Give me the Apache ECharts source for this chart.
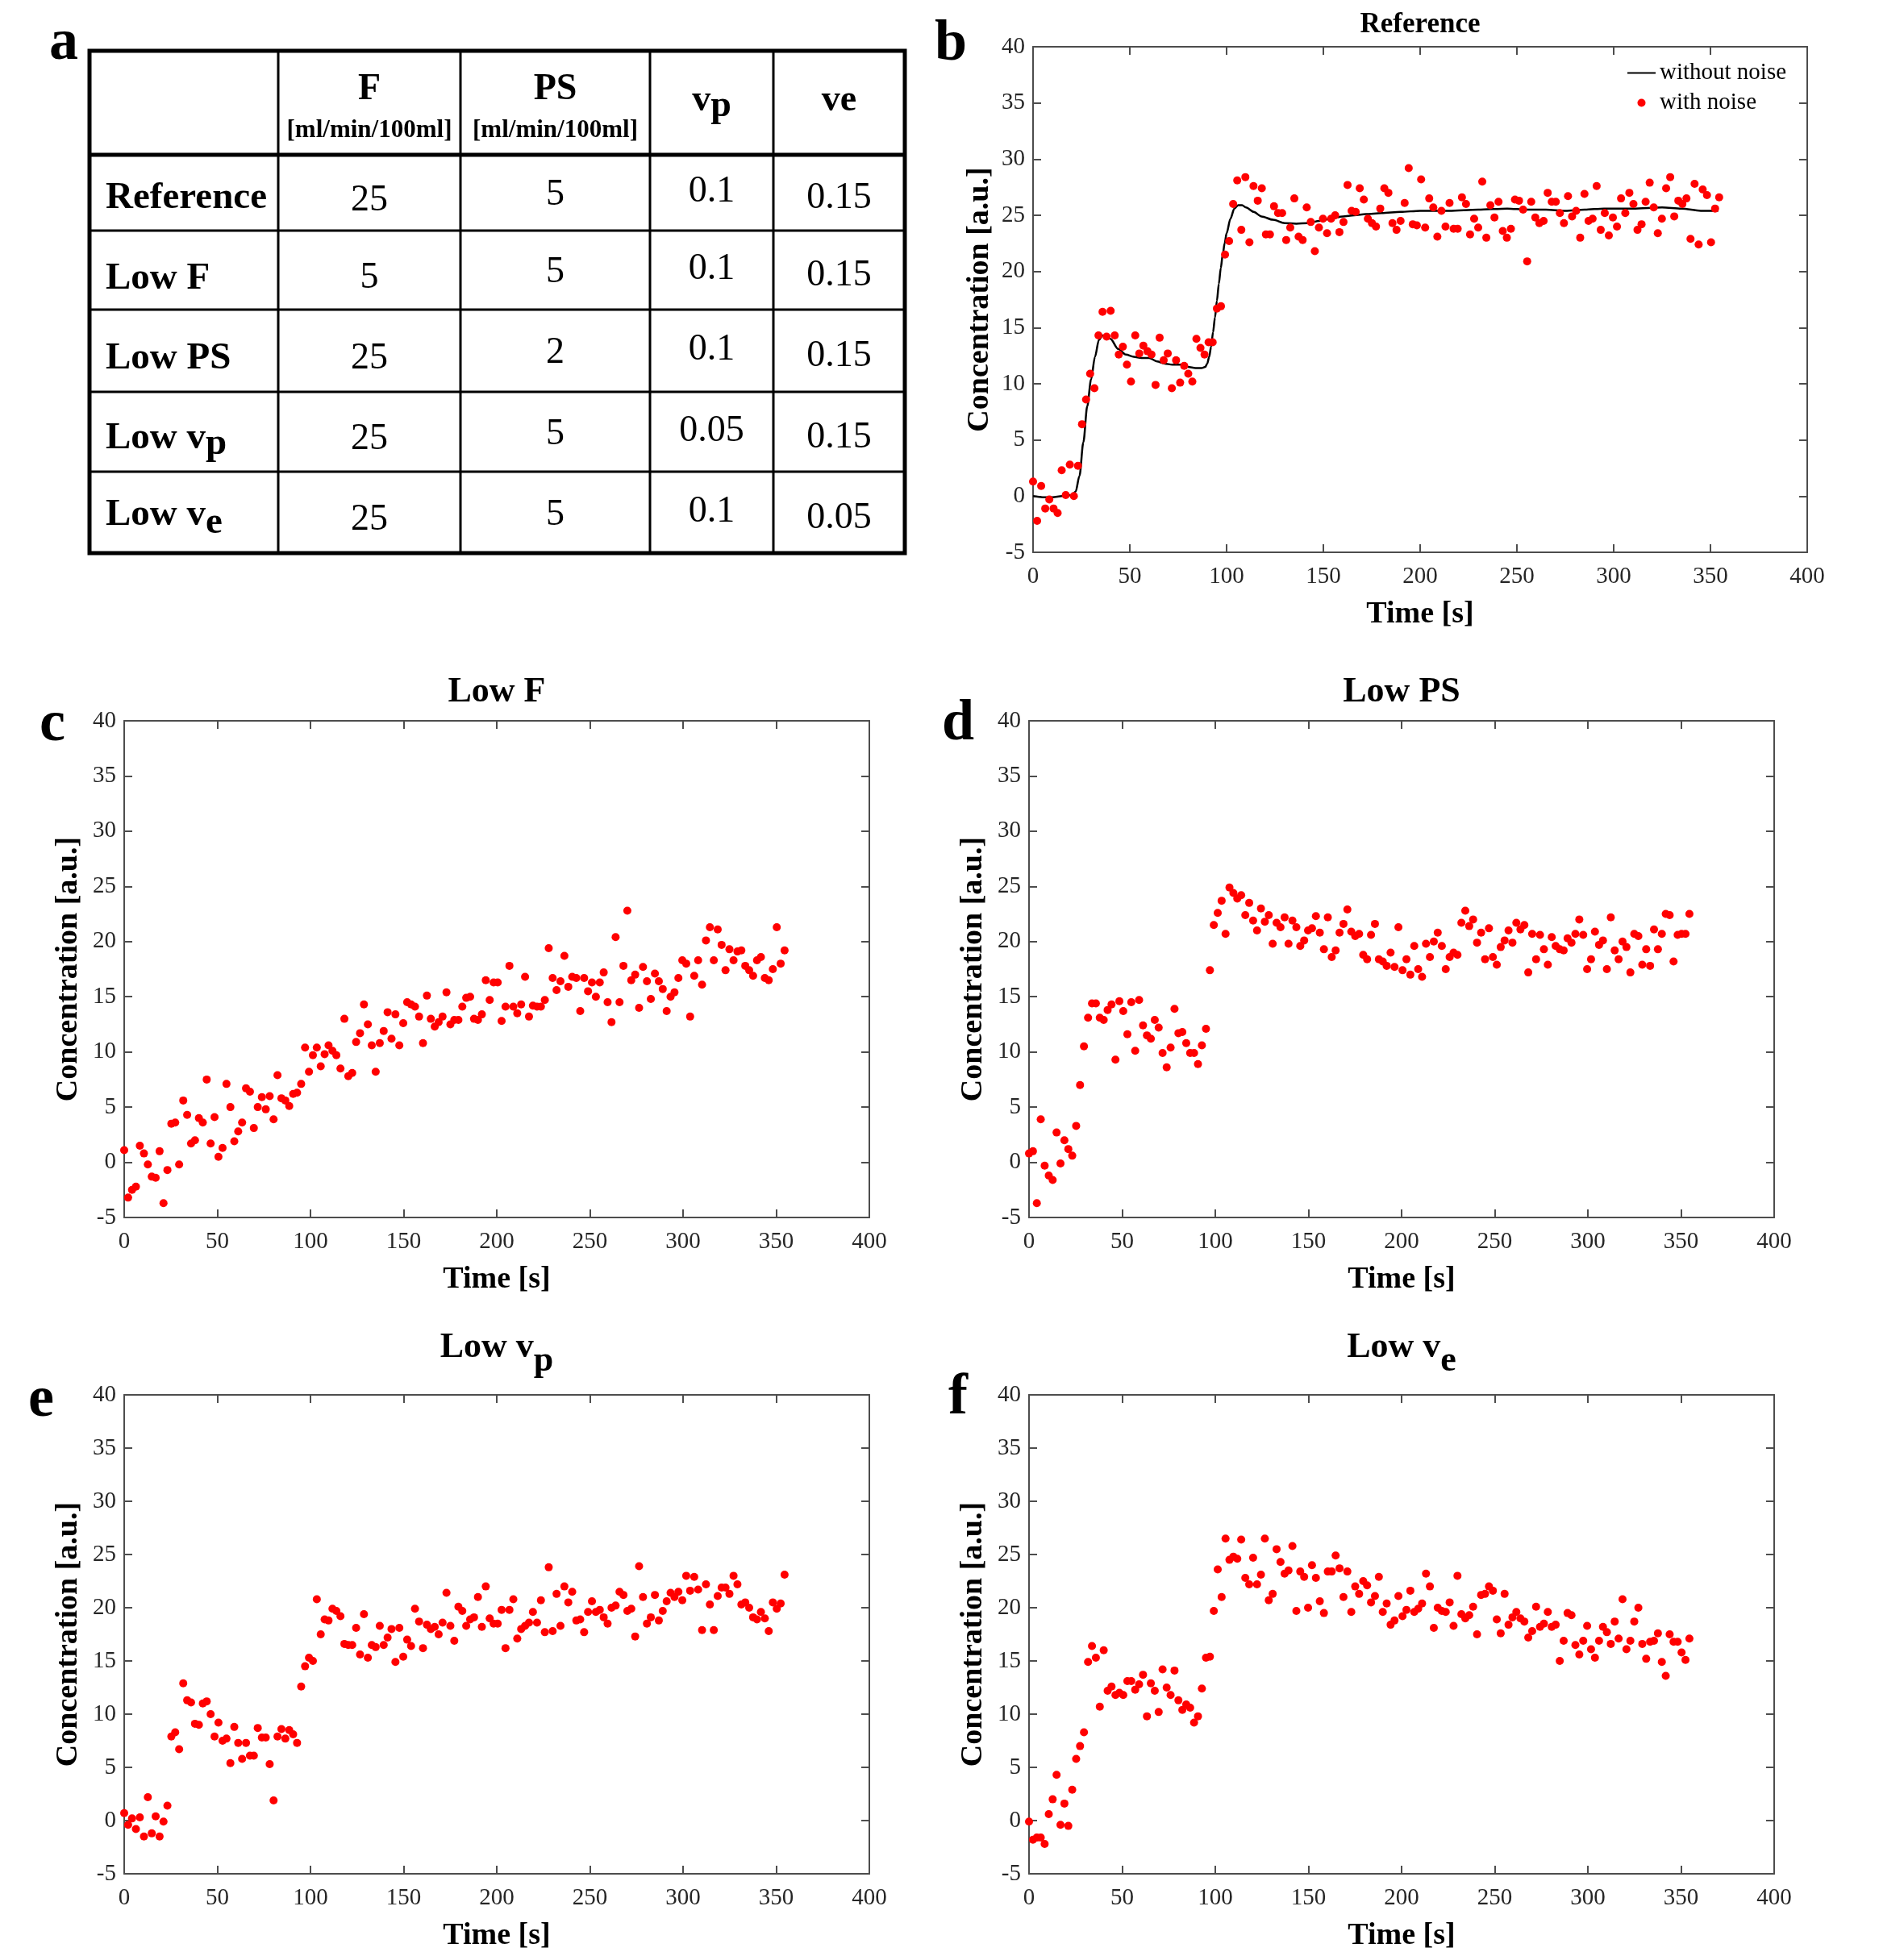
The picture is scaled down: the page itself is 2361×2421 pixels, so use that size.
<!DOCTYPE html>
<html>
<head>
<meta charset="utf-8">
<script src="https://cdn.jsdelivr.net/npm/echarts@6/dist/echarts.min.js"></script>
<style>
html,body{margin:0;padding:0;background:#fff;}
#chart{width:2361px;height:2421px;}
</style>
</head>
<body>
<div id="chart"></div>
<script>
// ---------------- DATA ----------------
// Sampling times [s] (common to all panels)
const time = [0.0,2.1,4.2,6.3,8.4,10.6,12.7,14.8,16.9,19.0,21.1,23.2,25.3,27.4,29.5,31.7,33.8,35.9,38.0,40.1,
42.2,44.3,46.4,48.5,50.6,52.8,54.9,57.0,59.1,61.2,63.3,65.4,67.5,69.6,71.7,73.9,76.0,78.1,80.2,82.3,
84.4,86.5,88.6,90.7,92.8,95.0,97.1,99.2,101.3,103.4,105.5,107.6,109.7,111.8,113.9,116.1,118.2,120.3,122.4,124.5,
126.6,128.7,130.8,132.9,135.0,137.2,139.3,141.4,143.5,145.6,147.7,149.8,151.9,154.0,156.1,158.3,160.4,162.5,164.6,166.7,
168.8,170.9,173.0,175.1,177.2,179.4,181.5,183.6,185.7,187.8,189.9,192.0,194.1,196.2,198.3,200.5,202.6,204.7,206.8,208.9,
211.0,213.1,215.2,217.3,219.4,221.6,223.7,225.8,227.9,230.0,232.1,234.2,236.3,238.4,240.5,242.7,244.8,246.9,249.0,251.1,
253.2,255.3,257.4,259.5,261.6,263.8,265.9,268.0,270.1,272.2,274.3,276.4,278.5,280.6,282.7,284.9,287.0,289.1,291.2,293.3,
295.4,297.5,299.6,301.7,303.8,306.0,308.1,310.2,312.3,314.4,316.5,318.6,320.7,322.8,324.9,327.1,329.2,331.3,333.4,335.5,
337.6,339.7,341.8,343.9,346.0,348.2,350.3,352.4,354.5];

// Panel b: Reference, with noise
const refNoisy = [1.3,-2.2,0.9,-1.1,-0.3,-1.1,-1.5,2.3,0.1,2.8,
0.0,2.7,6.4,8.6,10.9,9.6,14.3,16.4,14.2,16.5,
14.3,12.6,13.3,11.7,10.2,14.3,12.7,13.4,12.9,12.6,
9.9,14.1,12.1,12.7,9.6,12.1,10.1,11.6,10.9,10.2,
14.0,13.2,12.6,13.7,13.7,16.7,16.9,21.5,22.7,26.0,
28.1,23.7,28.4,22.6,27.6,26.3,27.4,23.3,23.3,25.8,
25.2,25.2,22.8,23.9,26.5,23.1,22.8,25.7,24.4,21.8,
23.9,24.7,23.4,24.7,25.0,23.5,24.4,27.7,25.4,25.3,
27.4,26.4,24.7,24.3,24.0,25.6,27.4,27.0,24.3,
23.7,24.5,26.1,29.2,24.2,24.1,28.2,23.9,26.5,25.7,
23.1,25.4,24.0,26.1,23.8,23.8,26.6,26.0,23.3,24.7,
23.9,28.0,23.0,25.9,24.8,26.2,23.6,23.0,23.8,26.4,
26.3,25.5,20.9,26.2,24.8,24.3,24.5,27.0,26.2,26.2,
25.2,24.3,26.7,24.9,25.4,23.0,26.9,24.5,24.7,27.6,
23.7,25.2,23.2,24.8,24.0,26.5,25.2,27.0,26.0,23.7,
24.2,26.2,27.9,25.7,23.4,24.7,27.4,28.4,24.9,26.3,
26.0,26.5,22.9,27.8,22.4,27.3,26.8,22.6,25.6,26.6];

// Panel b: Reference, without noise (curve)
const refCleanTime = [0,5,10,15,20,22,24,26,28,30,32,34,36,38,40,44,48,52,56,60,64,68,72,76,80,84,87,89,90,91,92,93,94,95,96,97,98,99,100,102,104,106,108,110,114,118,124,130,136,142,148,154,160,166,172,180,190,200,215,230,245,255,265,275,285,295,310,325,335,345,354];
const refClean = [0,-0.1,-0.1,0,0.1,0.4,1.8,4.8,8.0,10.4,12.4,13.9,14.3,14.2,14.0,13.1,12.6,12.4,12.3,12.3,12.0,11.8,11.7,11.7,11.5,11.4,11.4,11.5,11.8,12.4,13.3,14.6,15.9,17.4,18.9,20.3,21.5,22.5,23.4,24.7,25.6,25.9,25.9,25.7,25.3,24.9,24.6,24.3,24.25,24.3,24.5,24.7,24.9,25.0,25.1,25.2,25.3,25.4,25.4,25.5,25.6,25.5,25.5,25.4,25.5,25.6,25.6,25.7,25.6,25.4,25.4];

// Panel c: Low F
const lowF = [1.1,-3.2,-2.5,-2.2,1.5,0.8,-0.2,-1.3,-1.4,1.0,
-3.7,-0.7,3.5,3.6,-0.2,5.6,4.3,1.7,2.0,4.0,
3.6,7.5,1.7,4.1,0.5,1.3,7.1,5.0,1.9,2.8,
3.6,6.7,6.4,3.1,5.0,5.9,4.8,6.0,3.9,7.9,
5.8,5.6,5.1,6.2,6.3,7.1,10.4,8.2,9.7,10.4,
8.7,9.8,10.6,10.1,9.7,8.5,13.0,7.8,8.1,10.9,
11.7,14.3,12.5,10.6,8.2,10.8,11.9,13.6,11.2,13.4,
10.6,12.6,14.5,14.3,14.1,13.2,10.8,15.1,13.0,12.3,
12.7,13.2,15.4,12.5,12.9,12.9,14.1,14.9,15.0,13.0,
12.9,13.4,16.5,14.7,16.3,16.3,
12.8,14.1,17.8,14.1,13.5,14.3,16.8,13.2,14.2,14.1,
14.1,14.7,19.4,16.7,15.6,16.4,18.7,15.9,16.8,16.7,
13.7,16.7,15.5,16.3,15.0,16.3,17.2,14.5,12.7,20.4,
14.5,17.8,22.8,16.5,17.0,14.0,17.7,16.4,14.8,17.1,
16.4,15.7,13.7,15.0,15.4,16.7,18.3,18.0,13.2,16.9,
18.3,16.1,20.1,21.3,18.3,21.1,19.7,17.4,19.3,18.3,
19.1,19.2,17.8,17.4,16.9,18.3,18.6,16.7,16.5,17.5,
21.3,18.0,19.2];

// Panel d: Low PS
const lowPS = [0.8,1.0,-3.7,3.9,-0.3,-1.2,-1.6,2.7,-0.1,2.0,
1.2,0.6,3.3,7.0,10.5,13.1,14.4,14.4,13.1,12.9,
13.8,14.3,9.3,14.6,13.7,11.6,14.5,10.1,14.7,12.4,
11.5,11.2,12.9,12.2,9.9,8.6,10.4,13.9,11.7,11.8,
10.8,9.9,9.9,8.9,10.6,12.1,17.4,21.5,22.6,23.7,
20.7,24.9,24.4,23.9,24.2,22.4,23.5,21.9,21.0,23.0,
21.8,22.4,19.8,21.7,21.3,22.2,19.8,21.9,21.3,19.6,
20.1,21.0,21.2,22.3,20.8,19.3,22.2,18.6,19.2,20.8,
21.6,22.9,20.9,20.5,20.7,18.8,18.4,20.6,21.6,18.4,
18.2,17.8,19.0,17.7,21.3,17.4,
18.4,17.0,19.6,17.5,16.8,19.8,18.6,20.0,20.8,19.6,
17.5,18.6,19.0,18.8,21.7,22.8,21.4,22.0,19.9,20.8,
18.4,21.2,18.6,17.9,19.5,20.1,21.0,19.9,21.7,21.1,
21.5,17.2,20.7,18.4,20.6,19.3,17.9,20.4,19.6,19.3,
19.2,20.3,19.9,20.7,22.0,20.6,17.5,18.4,20.9,19.7,
20.1,17.5,22.2,19.2,18.4,20.0,19.5,17.2,20.7,20.5,
17.9,19.3,17.8,21.1,19.3,20.7,22.5,22.4,18.2,20.6,
20.7,20.7,22.5];

// Panel e: Low vp
const lowVp = [0.7,-0.4,0.2,-0.8,0.3,-1.5,2.2,-1.2,0.4,-1.5,
-0.1,1.4,7.9,8.3,6.7,12.9,11.3,11.1,9.1,9.0,
11.0,11.2,10.0,7.9,9.2,7.5,7.7,5.4,8.8,7.3,
5.8,7.3,6.1,6.1,8.7,7.8,7.8,5.3,1.9,7.9,
8.6,7.7,8.5,8.1,7.3,12.6,14.5,15.3,15.0,20.8,
17.5,18.9,18.8,19.9,19.7,19.2,16.6,16.5,16.5,18.1,
15.6,19.4,15.3,16.5,16.3,18.3,16.5,17.2,18.0,14.9,
18.1,15.4,17.0,16.4,19.9,18.7,16.2,18.4,18.0,18.2,
17.5,18.6,21.4,18.3,16.9,20.1,19.7,18.3,18.9,19.1,
21.0,18.2,22.0,19.0,18.5,18.5,
19.8,16.2,19.8,20.8,17.1,18.0,18.3,18.6,19.6,18.6,
20.7,17.7,23.8,17.8,21.3,18.3,22.0,20.5,21.5,18.8,
18.9,17.7,19.6,20.6,19.6,19.8,19.1,18.5,20.0,20.2,
21.5,21.2,19.7,19.9,17.3,23.9,21.0,18.5,19.1,21.2,
18.8,19.7,20.6,21.4,21.0,21.5,20.7,23.0,21.6,22.9,
21.7,17.9,22.2,20.3,17.9,21.1,21.9,21.9,21.3,23.0,
22.2,20.3,20.5,20.0,19.1,18.9,19.6,19.0,17.8,20.5,
19.9,20.4,23.1];

// Panel f: Low ve
const lowVe = [-0.1,-1.8,-1.6,-1.6,-2.2,0.6,2.0,4.3,-0.4,1.6,
-0.5,2.9,5.8,7.0,8.3,14.9,16.4,15.3,10.7,16.0,
12.2,12.6,11.8,12.0,11.8,13.1,13.1,12.3,12.8,13.7,
9.8,12.9,12.2,10.2,14.2,12.5,11.8,14.1,11.3,10.4,
10.9,10.6,9.2,9.8,12.4,15.3,15.4,19.7,23.6,21.0,
26.5,24.5,24.8,24.6,26.4,22.8,22.2,24.7,22.2,23.1,
26.5,20.7,21.3,25.5,24.3,23.2,23.5,25.8,19.7,23.4,
22.9,20.0,24.0,22.8,20.6,19.5,23.4,23.4,24.9,23.7,
21.0,23.4,19.6,22.0,21.3,22.5,22.1,20.5,21.1,22.9,
19.6,20.4,18.4,18.8,21.1,19.2,
19.8,21.6,19.6,19.9,20.4,23.2,22.0,18.1,20.0,19.7,
19.6,20.5,18.3,23.0,19.4,19.0,19.3,20.1,17.5,21.2,
21.3,22.0,21.6,18.9,17.6,21.3,18.4,19.1,19.6,19.0,
18.7,17.2,17.8,20.1,18.2,18.5,19.6,18.2,18.4,15.0,
16.9,19.5,19.3,16.5,15.6,16.9,18.3,16.1,15.3,16.9,
18.2,17.7,16.6,18.7,17.1,20.8,16.1,16.9,18.7,20.0,
16.6,15.2,16.8,16.9,17.6,14.9,13.6,17.5,16.8,16.8,
15.8,15.1,17.1];

// Panel titles and letters
const panelTitles = ['Reference', 'Low F', 'Low PS', 'Low v', 'Low v'];
const panelTitleSubs = ['', '', '', 'p', 'e'];
const panelLetters = ['a', 'b', 'c', 'd', 'e', 'f'];

// Table (panel a)
const tableHeader = ['F', 'PS', 'v', 've'];
const tableHeaderSubs = ['', '', 'p', ''];
const tableUnits = ['[ml/min/100ml]', '[ml/min/100ml]', '', ''];
const tableRows = ['Reference', 'Low F', 'Low PS', 'Low v', 'Low v'];
const tableRowSubs = ['', '', '', 'p', 'e'];
const tableValues = [
  ['25', '5', '0.1', '0.15'],
  ['5', '5', '0.1', '0.15'],
  ['25', '2', '0.1', '0.15'],
  ['25', '5', '0.05', '0.15'],
  ['25', '5', '0.1', '0.05']
];

// Axis ranges
const xMin = 0, xMax = 400, xStep = 50;
const yMin = -5, yMax = 40, yStep = 5;

// ---------------- LAYOUT / STYLE ----------------
const FONT = "'Liberation Serif','Times New Roman',serif";
const AXC = '#4d4d4d';
const TXC = '#262626';

const grids = [
  {left: 1281, top: 58, width: 960, height: 627},   // b
  {left: 154, top: 894, width: 924, height: 616},   // c
  {left: 1276, top: 894, width: 924, height: 616},  // d
  {left: 154, top: 1730, width: 924, height: 594},  // e
  {left: 1276, top: 1730, width: 924, height: 594}  // f
];
const yNameGaps = [47, 50, 50, 50, 50];
const titleFs = [35, 44, 44, 44, 44];
const titleCenterY = [31, 859, 859, 1672, 1672];
const letterPos = [[79, 54], [1179, 55], [65, 899], [1188, 898], [51, 1737], [1188, 1734]];

function mkX(gi, pos) {
  const bottom = pos === 'bottom';
  return {
    type: 'value', gridIndex: gi, position: pos, min: xMin, max: xMax, interval: xStep,
    axisLine: {show: true, onZero: false, lineStyle: {color: AXC, width: 2}},
    axisTick: {show: true, inside: true, length: 10, lineStyle: {color: AXC, width: 2}},
    axisLabel: bottom ? {show: true, margin: 16, fontSize: 29, fontFamily: FONT, color: TXC} : {show: false},
    splitLine: {show: false},
    name: bottom ? 'Time [s]' : '',
    nameLocation: 'middle', nameGap: 58,
    nameTextStyle: {fontSize: 38, fontWeight: 'bold', fontFamily: FONT, color: '#000'}
  };
}
function mkY(gi, pos) {
  const left = pos === 'left';
  return {
    type: 'value', gridIndex: gi, position: pos, min: yMin, max: yMax, interval: yStep,
    axisLine: {show: true, onZero: false, lineStyle: {color: AXC, width: 2}},
    axisTick: {show: true, inside: true, length: 10, lineStyle: {color: AXC, width: 2}},
    axisLabel: left ? {show: true, margin: 10, fontSize: 29, fontFamily: FONT, color: TXC} : {show: false},
    splitLine: {show: false},
    name: left ? 'Concentration [a.u.]' : '',
    nameLocation: 'middle', nameGap: yNameGaps[gi],
    nameTextStyle: {fontSize: 38, fontWeight: 'bold', fontFamily: FONT, color: '#000'}
  };
}

const xAxes = [], yAxes = [];
grids.forEach((g, i) => {
  g.outerBoundsMode = 'none';
  g.containLabel = false;
  xAxes.push(mkX(i, 'bottom'), mkX(i, 'top'));
  yAxes.push(mkY(i, 'left'), mkY(i, 'right'));
});

function pairs(ts, vs) { return ts.map((t, i) => [t, vs[i]]); }

function scatter(name, gi, vals) {
  return {
    type: 'scatter', name, xAxisIndex: 2 * gi, yAxisIndex: 2 * gi,
    data: pairs(time, vals), symbol: 'circle', symbolSize: 10,
    itemStyle: {color: '#ff0000', opacity: 1}, z: 3, silent: true
  };
}

const series = [
  {
    type: 'line', name: 'without noise', xAxisIndex: 0, yAxisIndex: 0,
    data: pairs(refCleanTime, refClean), symbol: 'none', smooth: 0.3, smoothMonotone: 'x',
    lineStyle: {color: '#000', width: 2.5}, itemStyle: {color: '#000'}, z: 2, silent: true
  },
  scatter('with noise', 0, refNoisy),
  scatter('Low F', 1, lowF),
  scatter('Low PS', 2, lowPS),
  scatter('Low vp', 3, lowVp),
  scatter('Low ve', 4, lowVe)
];

// ---------- graphic helpers ----------
function plainText(x, y, text, fs, weight, align) {
  return {type: 'text', x, y, silent: true, z: 10,
    style: {text, fontSize: fs, fontWeight: weight, fontFamily: FONT, fill: '#000', align, verticalAlign: 'middle'}};
}
function subText(x, top, main, sub, fs, shift, weight, align) {
  const base = {fontSize: fs, fontWeight: weight, fontFamily: FONT, fill: '#000', verticalAlign: 'top', lineHeight: fs};
  return {type: 'text', x, y: top, silent: true, z: 10,
    style: {text: '{m|' + main + '}{s|' + sub + '}', align, verticalAlign: 'top',
      fontSize: fs, fontWeight: weight, fontFamily: FONT, fill: '#000',
      rich: {m: Object.assign({}, base), s: Object.assign({}, base, {padding: [shift, 0, 0, 0], lineHeight: fs + shift})}}};
}

const graphics = [];

// panel letters
panelLetters.forEach((L, i) => {
  graphics.push(plainText(letterPos[i][0], letterPos[i][1], L, 72, 'bold', 'center'));
});

// panel titles
grids.forEach((g, i) => {
  const cx = g.left + g.width / 2;
  const fs = titleFs[i];
  if (panelTitleSubs[i]) {
    graphics.push(subText(cx, titleCenterY[i] - fs / 2, panelTitles[i], panelTitleSubs[i], fs, 17, 'bold', 'center'));
  } else {
    graphics.push(plainText(cx, titleCenterY[i], panelTitles[i], fs, 'bold', 'center'));
  }
});

// table geometry
const colX = [111, 345, 571, 806, 959, 1122];
const rowY = [63, 192, 286, 384, 486, 585, 686];
graphics.push({type: 'rect', shape: {x: colX[0], y: rowY[0], width: colX[5] - colX[0], height: rowY[6] - rowY[0]},
  style: {fill: 'none', stroke: '#000', lineWidth: 5}, silent: true, z: 5});
graphics.push({type: 'line', shape: {x1: colX[0], y1: rowY[1], x2: colX[5], y2: rowY[1]},
  style: {stroke: '#000', lineWidth: 5}, silent: true, z: 5});
for (let r = 2; r <= 5; r++) {
  graphics.push({type: 'line', shape: {x1: colX[0], y1: rowY[r], x2: colX[5], y2: rowY[r]},
    style: {stroke: '#000', lineWidth: 3}, silent: true, z: 5});
}
for (let c = 1; c <= 4; c++) {
  graphics.push({type: 'line', shape: {x1: colX[c], y1: rowY[0], x2: colX[c], y2: rowY[6]},
    style: {stroke: '#000', lineWidth: 3}, silent: true, z: 5});
}
// header
const headerBaseline = [127, 127, 141, 141];
tableHeader.forEach((h, c) => {
  const cx = (colX[c + 1] + colX[c + 2]) / 2;
  if (tableHeaderSubs[c]) {
    graphics.push(subText(cx, headerBaseline[c] - 0.84 * 46, h, tableHeaderSubs[c], 46, 7, 'bold', 'center'));
  } else {
    graphics.push(plainText(cx, headerBaseline[c] - 0.34 * 46, h, 46, 'bold', 'center'));
  }
  if (tableUnits[c]) graphics.push(plainText(cx, 173 - 0.34 * 31, tableUnits[c], 31, 'bold', 'center'));
});
// row labels
const rowLabelBaseline = [262, 362, 461, 560, 655];
const rowSubShift = [0, 0, 0, 7, 10];
tableRows.forEach((lab, r) => {
  if (tableRowSubs[r]) {
    graphics.push(subText(131, rowLabelBaseline[r] - 0.84 * 47, lab, tableRowSubs[r], 47, rowSubShift[r], 'bold', 'left'));
  } else {
    graphics.push(plainText(131, rowLabelBaseline[r] - 0.34 * 47, lab, 47, 'bold', 'left'));
  }
});
// values
const colBaseOff = [25.5, 19, 15, 23];
tableValues.forEach((row, r) => {
  const rc = (rowY[r + 1] + rowY[r + 2]) / 2;
  row.forEach((v, c) => {
    const cx = (colX[c + 1] + colX[c + 2]) / 2;
    graphics.push(plainText(cx, rc + colBaseOff[c] - 0.34 * 46, v, 46, 'normal', 'center'));
  });
});

const option = {
  animation: false,
  backgroundColor: '#fff',
  grid: grids,
  xAxis: xAxes,
  yAxis: yAxes,
  legend: {
    data: [
      {name: 'without noise', itemStyle: {opacity: 0, color: 'rgba(0,0,0,0)', borderWidth: 0}},
      {name: 'with noise'}
    ],
    orient: 'vertical', left: 2017, top: 76, padding: 0, itemGap: 8,
    itemWidth: 35, itemHeight: 10, selectedMode: false,
    textStyle: {fontSize: 29, fontFamily: FONT, color: '#000'},
    backgroundColor: 'transparent', borderWidth: 0
  },
  series,
  graphic: graphics
};

const chart = echarts.init(document.getElementById('chart'), null, {renderer: 'canvas'});
chart.setOption(option);
</script>
</body>
</html>
